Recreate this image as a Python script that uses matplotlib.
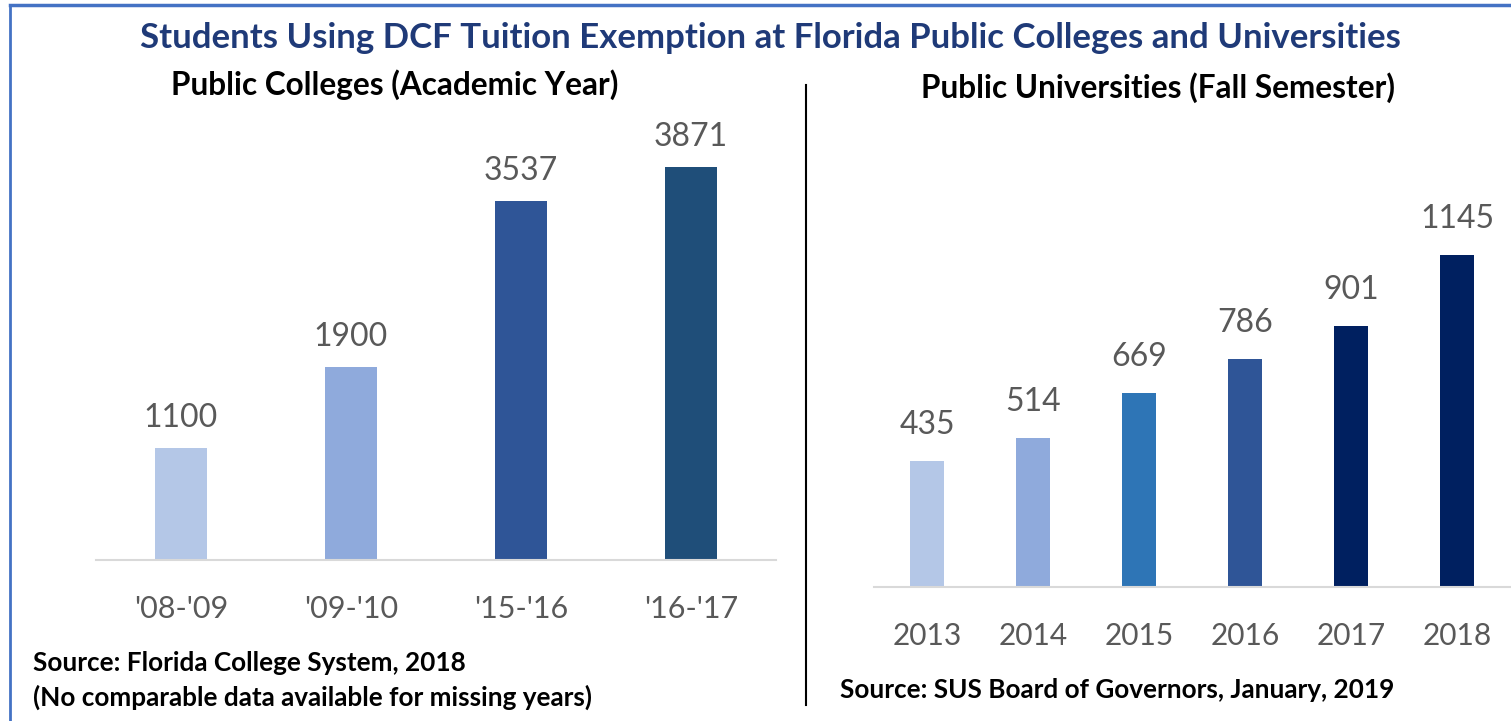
import matplotlib.pyplot as plt
from matplotlib.lines import Line2D

# Data
college_years = ["'08-'09", "'09-'10", "'15-'16", "'16-'17"]
college_counts = [1100, 1900, 3537, 3871]
college_colors = ['#b4c7e7', '#8faadc', '#2f5597', '#1f4e79']

univ_years = ['2013', '2014', '2015', '2016', '2017', '2018']
univ_counts = [435, 514, 669, 786, 901, 1145]
univ_colors = ['#b4c7e7', '#8faadc', '#2e75b6', '#2f5597', '#002060', '#002060']

W, H = 1511, 721
plt.rcParams['font.family'] = ['Lato', 'DejaVu Sans']
fig = plt.figure(figsize=(W / 100, H / 100), dpi=100)


def px_axes(x0, x1, y_top, y_bot):
    return fig.add_axes([x0 / W, 1 - y_bot / H, (x1 - x0) / W, (y_bot - y_top) / H])


def bar_panel(ax, labels, values, colors, width, ymax, fs_val, fs_tick, gap):
    x = range(len(values))
    bars = ax.bar(x, values, width=width, color=colors)
    for b, v in zip(bars, values):
        ax.text(b.get_x() + b.get_width() / 2, v + ymax * gap, str(v),
                ha='center', va='bottom', fontsize=fs_val, color='#595959')
    ax.set_xlim(-0.5, len(values) - 0.5)
    ax.set_ylim(0, ymax)
    ax.set_xticks(list(x))
    ax.set_xticklabels(labels, fontsize=fs_tick, color='#595959')
    ax.tick_params(axis='x', length=0, pad=25)
    ax.set_yticks([])
    for s in ['top', 'left', 'right']:
        ax.spines[s].set_visible(False)
    ax.spines['bottom'].set_color('#d9d9d9')
    ax.spines['bottom'].set_linewidth(1.5)


# left panel: colleges
ax1 = px_axes(96, 776, 120, 560)
bar_panel(ax1, college_years, college_counts, college_colors, 0.31, 4335, 23, 22, 0.035)

# right panel: universities
ax2 = px_axes(874, 1510, 120, 587)
bar_panel(ax2, univ_years, univ_counts, univ_colors, 0.32, 1610, 23, 21.5, 0.045)

# titles
fig.text(770 / W, 1 - 38 / H, 'Students Using DCF Tuition Exemption at Florida Public Colleges and Universities',
         ha='center', va='center', fontsize=25, fontweight='bold', color='#1f3a78')
fig.text(395 / W, 1 - 85 / H, 'Public Colleges (Academic Year)',
         ha='center', va='center', fontsize=22.7, fontweight='bold', color='black')
fig.text(1158 / W, 1 - 88 / H, 'Public Universities (Fall Semester)',
         ha='center', va='center', fontsize=22.7, fontweight='bold', color='black')

# sources
fig.text(33 / W, 1 - 663 / H, 'Source: Florida College System, 2018',
         ha='left', va='center', fontsize=18.8, fontweight='bold', color='black')
fig.text(33 / W, 1 - 697 / H, '(No comparable data available for missing years)',
         ha='left', va='center', fontsize=18.8, fontweight='bold', color='black')
fig.text(840 / W, 1 - 690 / H, 'Source: SUS Board of Governors, January, 2019',
         ha='left', va='center', fontsize=18.8, fontweight='bold', color='black')

# separator and border
fig.add_artist(Line2D([806 / W, 806 / W], [1 - 85 / H, 1 - 705 / H], color='black', lw=1.5))
fig.add_artist(Line2D([10 / W, 10 / W], [0, 1 - 5 / H], color='#4472c4', lw=2))
fig.add_artist(Line2D([10 / W, 1], [1 - 5 / H, 1 - 5 / H], color='#4472c4', lw=2.5))

fig.savefig('out.png', dpi=100)
